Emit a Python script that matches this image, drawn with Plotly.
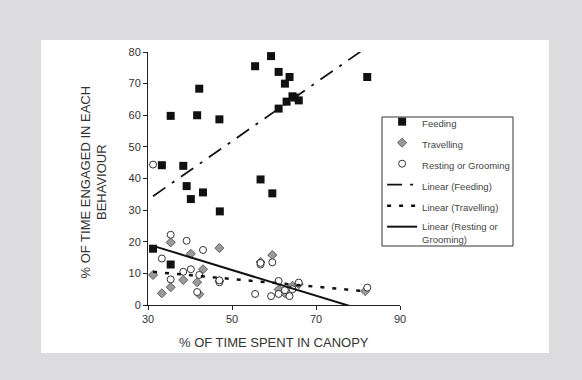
import plotly.graph_objects as go

# ---- data ----
feeding_x = [31.2, 33.3, 35.4, 35.4, 38.4, 39.2, 40.2, 41.7, 42.2, 43.1, 47.0, 47.1,
             55.5, 56.8, 59.3, 59.6, 61.1, 61.1, 62.6, 63.0, 63.7, 64.4, 64.9, 65.9, 82.2]
feeding_y = [17.8, 44.2, 59.8, 12.8, 44.0, 37.6, 33.5, 60.0, 68.4, 35.6, 58.7, 29.6,
             75.5, 39.7, 78.7, 35.3, 73.7, 62.1, 70.0, 64.3, 72.1, 66.0, 65.6, 64.7, 72.1]

travel_x = [31.2, 33.3, 35.4, 35.4, 38.4, 40.2, 41.7, 42.2, 43.1, 47.0, 47.0,
            56.8, 59.6, 61.1, 62.6, 64.4, 65.9, 81.7]
travel_y = [9.5, 3.7, 19.8, 5.6, 7.9, 16.2, 7.2, 3.4, 11.3, 18.0, 7.6,
            13.6, 15.8, 4.9, 3.7, 6.1, 6.6, 4.4]

rest_x = [31.2, 33.3, 35.4, 35.4, 38.4, 39.2, 40.2, 41.7, 42.2, 43.1, 47.0, 47.0,
          55.5, 56.8, 56.8, 59.3, 59.6, 61.1, 61.1, 62.6, 63.7, 64.4, 65.9, 82.2]
rest_y = [44.4, 14.7, 22.2, 8.1, 10.5, 20.3, 11.3, 4.1, 9.5, 17.4, 7.2, 7.8,
          3.5, 12.8, 13.3, 2.8, 13.5, 7.6, 3.5, 4.7, 2.8, 5.0, 7.1, 5.5]

# linear trendline end points
trend_x = [31.2, 82.2]
feeding_trend_y = [34.4, 81.6]
travel_trend_y = [10.5, 4.3]
rest_trend_y = [18.7, -2.0]

x_ticks = [30, 50, 70, 90]
y_ticks = [0, 10, 20, 30, 40, 50, 60, 70, 80]

FONT = "Liberation Sans, Arial, sans-serif"
TXT = "#333333"

fig = go.Figure()

fig.add_trace(go.Scatter(
    x=feeding_x, y=feeding_y, mode="markers", name="Feeding", legendgroup="a",
    marker=dict(symbol="square", size=8, color="#111111", line=dict(width=0))))
fig.add_trace(go.Scatter(
    x=travel_x, y=travel_y, mode="markers", name="Travelling", legendgroup="b",
    marker=dict(symbol="diamond", size=7, color="#9a9a9a", line=dict(width=0.8, color="#444444"))))
fig.add_trace(go.Scatter(
    x=rest_x, y=rest_y, mode="markers", name="Resting or Grooming", legendgroup="c",
    marker=dict(symbol="circle", size=7, color="white", line=dict(width=1, color="#333333"))))

fig.add_trace(go.Scatter(
    x=trend_x, y=feeding_trend_y, mode="lines", name="Linear (Feeding)", legendgroup="d",
    line=dict(color="#111111", width=1.8, dash="15px,8px,3px,8px")))
fig.add_trace(go.Scatter(
    x=trend_x, y=travel_trend_y, mode="lines", name="Linear (Travelling)", legendgroup="e",
    line=dict(color="#111111", width=2.5, dash="4px,8px")))
fig.add_trace(go.Scatter(
    x=trend_x, y=rest_trend_y, mode="lines", name="Linear (Resting or<br>Grooming)", legendgroup="f",
    line=dict(color="#111111", width=2)))

axis_common = dict(
    showgrid=False, zeroline=False, showline=True, linecolor="#222222", linewidth=1,
    ticks="outside", ticklen=4, tickcolor="#222222", tickwidth=1,
    tickfont=dict(family=FONT, size=11, color=TXT), fixedrange=True,
)

fig.update_xaxes(range=[30, 90], tickvals=x_ticks, **axis_common)
fig.update_yaxes(range=[0, 80], tickvals=y_ticks, **axis_common)

fig.update_layout(
    width=582, height=380,
    margin=dict(l=148, r=182, t=52, b=75, autoexpand=False),
    paper_bgcolor="#dcdcde", plot_bgcolor="white",
    font=dict(family=FONT, color=TXT),
    showlegend=True,
    legend=dict(
        x=0.929, y=(305 - 109) / 253, xanchor="left", yanchor="top",
        bgcolor="rgba(0,0,0,0)", borderwidth=0,
        font=dict(family=FONT, size=9.5, color="#444444"),
        traceorder="grouped", tracegroupgap=2, valign="top",
    ),
    shapes=[
        dict(type="rect", xref="paper", yref="paper", layer="below",
             x0=-107 / 252, x1=401 / 252, y0=-48 / 253, y1=265 / 253,
             fillcolor="white", line=dict(width=0)),
        dict(type="rect", xref="paper", yref="paper", layer="above",
             x0=(382 - 148) / 252, x1=(513 - 148) / 252,
             y0=(305 - 246) / 253, y1=(305 - 117) / 253,
             fillcolor="white", line=dict(width=1, color="#333333")),
    ],
    annotations=[
        dict(text="% OF TIME ENGAGED IN EACH<br>BEHAVIOUR", textangle=-90,
             xref="paper", yref="paper", x=-55 / 252, y=0.5 - 4 / 253,
             xanchor="center", yanchor="middle", showarrow=False,
             font=dict(family=FONT, size=13, color=TXT)),
        dict(text="% OF TIME SPENT IN CANOPY", xref="paper", yref="paper",
             x=0.5, y=-37 / 253, xanchor="center", yanchor="middle", showarrow=False,
             font=dict(family=FONT, size=13, color=TXT)),
    ],
)

fig.write_html(
    "out.html",
    config=dict(displayModeBar=False),
    post_script="document.body.style.margin='0';document.body.style.overflow='hidden';",
)
